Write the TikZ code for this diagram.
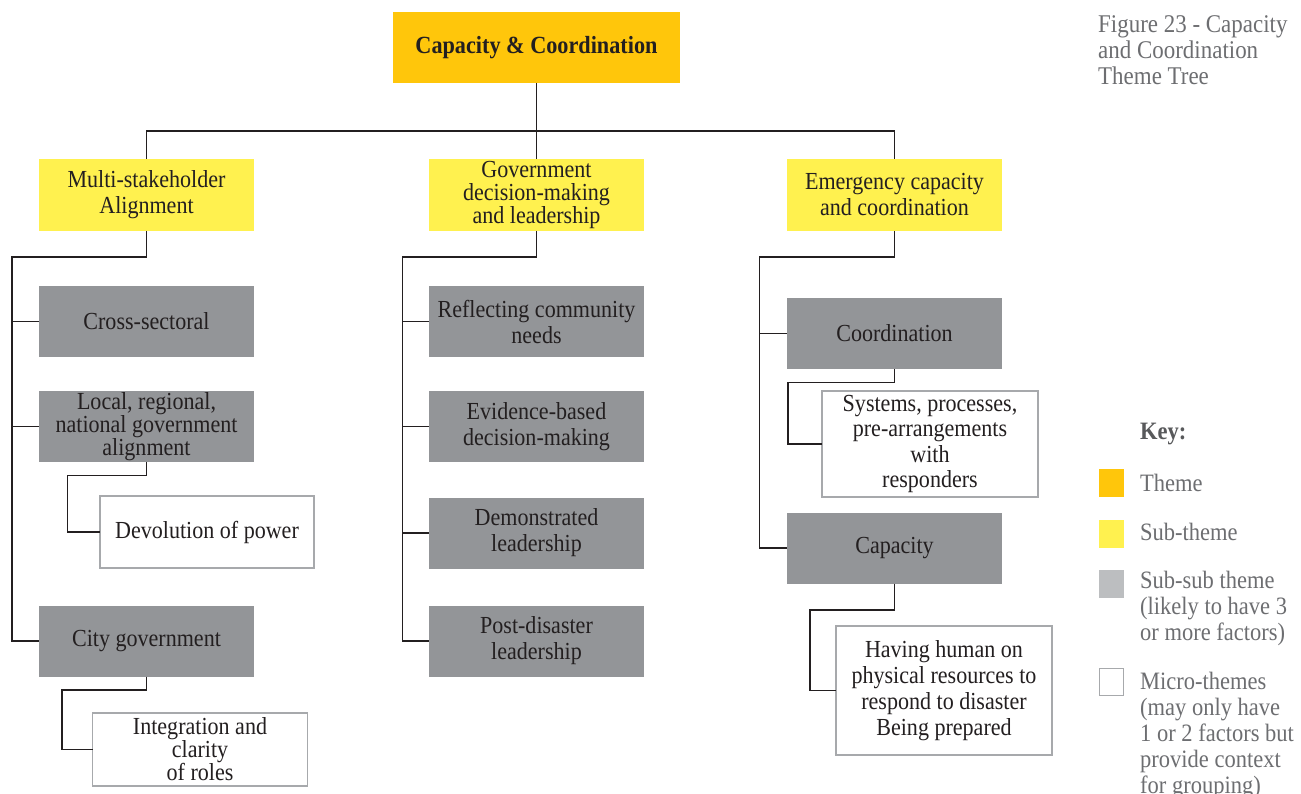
\documentclass[tikz,border=0pt]{standalone}
\usepackage{fontspec}
\setmainfont[FakeStretch=0.9]{Liberation Serif}
\definecolor{themeC}{HTML}{FFC60B}
\definecolor{subC}{HTML}{FFF14F}
\definecolor{ssC}{HTML}{939598}
\definecolor{keyss}{HTML}{BCBEC0}
\definecolor{microB}{HTML}{A7A9AC}
\definecolor{ink}{HTML}{231F20}
\definecolor{keyT}{HTML}{6D6E71}
\definecolor{keyH}{HTML}{58595B}
\tikzset{
  basebox/.style={inner sep=0pt, outer sep=0pt, align=center, text=ink, font=\fontsize{24.5}{26}\selectfont},
  themebox/.style={basebox, fill=themeC, minimum width=287pt, minimum height=71pt, font=\bfseries\fontsize{24.7}{28}\selectfont},
  subbox/.style={basebox, fill=subC, minimum width=215pt, minimum height=72pt},
  ssbox/.style={basebox, fill=ssC, minimum width=215pt, minimum height=71pt},
  microbox/.style={basebox, draw=microB, line width=1.5pt, fill=white},
  conn/.style={draw=ink, line width=1.3pt},
  keysw/.style={inner sep=0pt, outer sep=0pt, minimum width=25pt, minimum height=28pt},
  keytext/.style={anchor=west, inner sep=0pt, align=left, text=keyT, font=\fontsize{25}{26}\selectfont},
}
\begin{document}
\begin{tikzpicture}[x=1pt,y=-1pt]
\useasboundingbox (0,0) rectangle (1301,794);
\fill[white] (0,0) rectangle (1301,794);

% theme and sub-themes
\node[themebox] (theme) at (536.5,47.5) {Capacity \& Coordination};
\node[subbox] (left) at (146.5,195) {Multi-stakeholder\\Alignment};
\node[subbox, font=\fontsize{24.5}{23}\selectfont] (mid) at (536.5,195) {Government\\decision-making\\and leadership};
\node[subbox] (right) at (894.5,195) {Emergency capacity\\and coordination};

% left column
\node[ssbox] (cs) at (146.5,321.5) {Cross-sectoral};
\node[ssbox, font=\fontsize{24.5}{23}\selectfont] (lr) at (146.5,426.5) {Local, regional,\\national government\\alignment};
\node[microbox, minimum width=214pt, minimum height=72pt] (dev) at (207,532) {Devolution of power};
\node[ssbox] (city) at (146.5,641) {City government};
\node[microbox, minimum width=215pt, minimum height=73pt, font=\fontsize{24.5}{23}\selectfont] (integ) at (200,749.5) {Integration and\\clarity\\of roles};

% middle column
\node[ssbox] (rcn) at (536.5,321.5) {Reflecting community\\needs};
\node[ssbox] (ebd) at (536.5,426.5) {Evidence-based\\decision-making};
\node[ssbox] (dl) at (536.5,533) {Demonstrated\\leadership};
\node[ssbox] (pdl) at (536.5,641) {Post-disaster\\leadership};

% right column
\node[ssbox] (coord) at (894.5,333.5) {Coordination};
\node[microbox, minimum width=216pt, minimum height=106pt, font=\fontsize{24.5}{25.5}\selectfont] (sys) at (930,444) {Systems, processes,\\pre-arrangements\\with\\responders};
\node[ssbox] (cap) at (894.5,548) {Capacity};
\node[microbox, minimum width=216pt, minimum height=129pt] (hav) at (944,690.5) {Having human on\\physical resources to\\respond to disaster\\Being prepared};

% connector helper coordinates
\coordinate (hb) at (0,131);
\coordinate (lv) at (12,257);
\coordinate (mv) at (402.5,257);
\coordinate (rv) at (759.7,257);
\coordinate (dv) at (67.6,475.7);
\coordinate (iv) at (62,690);
\coordinate (sv) at (788,382.7);
\coordinate (hv) at (810,610);

% theme to sub-themes
\draw[conn] (theme.south) -- (mid.north);
\draw[conn] (left.north) -- (left.north |- hb) -- (right.north |- hb) -- (right.north);

% left tree
\draw[conn] (left.south) -- (left.south |- lv) -- (lv) -- (lv |- city.west) -- (city.west);
\draw[conn] (lv |- cs.west) -- (cs.west);
\draw[conn] (lv |- lr.west) -- (lr.west);
\draw[conn] (lr.south) -- (lr.south |- dv) -- (dv) -- (dv |- dev.west) -- (dev.west);
\draw[conn] (city.south) -- (city.south |- iv) -- (iv) -- (iv |- integ.west) -- (integ.west);

% middle tree
\draw[conn] (mid.south) -- (mid.south |- mv) -- (mv) -- (mv |- pdl.west) -- (pdl.west);
\draw[conn] (mv |- rcn.west) -- (rcn.west);
\draw[conn] (mv |- ebd.west) -- (ebd.west);
\draw[conn] (mv |- dl.west) -- (dl.west);

% right tree
\draw[conn] (right.south) -- (right.south |- rv) -- (rv) -- (rv |- cap.west) -- (cap.west);
\draw[conn] (rv |- coord.west) -- (coord.west);
\draw[conn] (coord.south) -- (coord.south |- sv) -- (sv) -- (sv |- sys.west) -- (sys.west);
\draw[conn] (cap.south) -- (cap.south |- hv) -- (hv) -- (hv |- hav.west) -- (hav.west);

% caption
\node[keytext, font=\fontsize{25.5}{26}\selectfont] (cap23) at (1098,50) {Figure 23 - Capacity\\and Coordination\\Theme Tree};

% key
\node[keytext, text=keyH, font=\bfseries\fontsize{25}{26}\selectfont] (keyh) at (1140,434) {Key:};
\node[keysw, fill=themeC] (k1) at (1111.5,483) {};
\node[keytext] (kt1) at (1140,483) {Theme};
\node[keysw, fill=subC] (k2) at (1111.5,534) {};
\node[keytext] (kt2) at (1140,532) {Sub-theme};
\node[keysw, fill=keyss] (k3) at (1111.5,584) {};
\node[keytext] (kt3) at (1140,608) {Sub-sub theme\\(likely to have 3\\or more factors)};
\node[keysw, draw=microB, line width=1.2pt, fill=white, minimum width=24pt, minimum height=27pt] (k4) at (1111.5,682) {};
\node[keytext] (kt4) at (1140,736) {Micro-themes\\(may only have\\1 or 2 factors but\\provide context\\for grouping)};
\end{tikzpicture}
\end{document}
